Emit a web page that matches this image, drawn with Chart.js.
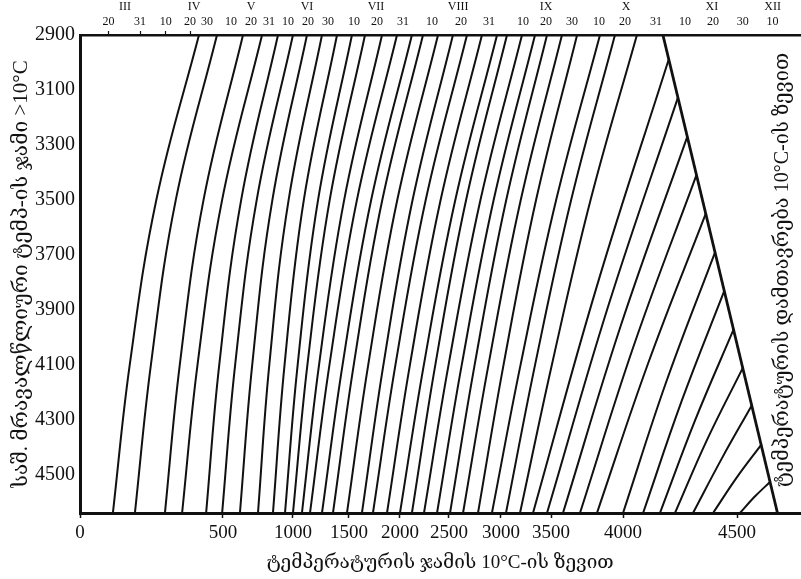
<!DOCTYPE html>
<html>
<head>
<meta charset="utf-8">
<script src="https://cdn.jsdelivr.net/npm/chart.js@4"></script>
<style>
  body { margin: 0; background: #fff; }
  #wrap { width: 801px; height: 579px; }
</style>
</head>
<body>
<div id="wrap"><canvas id="nomograma"></canvas></div>
<script>
// ტემპერატურის ჯამის ნომოგრამა (>10°C)

// ღერძების დანაყოფები
const levelTicks = [2900, 3100, 3300, 3500, 3700, 3900, 4100, 4300, 4500];
const sumTicks = [0, 500, 1000, 1500, 2000, 2500, 3000, 3500, 4000, 4500];

// თარიღები ზედა შკალაზე (2900-ის დონეზე)
const dayLabels = ['20', '31', '10', '20', '30', '10', '20', '31', '10', '20', '30', '10', '20', '31',
  '10', '20', '31', '10', '20', '30', '10', '20', '31', '10', '20', '30', '10'];
const daySums = [100, 210, 300, 385, 444, 557, 700, 829, 964, 1134, 1313, 1549, 1775, 2031,
  2327, 2615, 2885, 3220, 3450, 3646, 3833, 4009, 4145, 4272, 4395, 4526, 4658];
const monthLabels = ['III', 'IV', 'V', 'VI', 'VII', 'VIII', 'IX', 'X', 'XI', 'XII'];
const monthSums = [157, 399, 700, 1125, 1765, 2587, 3450, 4013, 4390, 4658];

// იზოხაზები, რომლებიც ზედა კიდემდე აღწევს: ჯამი დონეებზე 4640, 4100, 3500, 2900
const fullLevels = [4640, 4100, 3500, 2900];
const fullBottom = [115, 192, 297, 357, 441, 497, 621, 750, 857, 943, 1000, 1080, 1152, 1259, 1357,
  1482, 1627, 1735, 1873, 2000, 2122, 2245, 2378, 2510, 2635, 2779, 2913, 3050, 3190];
const full4100 = [174, 248, 349, 411, 487, 587, 709, 831, 940, 1042, 1129, 1233, 1326, 1443, 1547,
  1689, 1838, 1956, 2102, 2244, 2361, 2496, 2623, 2747, 2880, 3026, 3196, 3341, 3506];
const full3500 = [267, 335, 432, 497, 630, 741, 853, 969, 1097, 1224, 1328, 1457, 1578, 1718, 1827,
  1974, 2129, 2263, 2415, 2561, 2665, 2803, 2930, 3053, 3198, 3351, 3536, 3640, 3775];
const fullTop = [416, 479, 643, 779, 893, 1000, 1125, 1259, 1393, 1529, 1657, 1824, 1971, 2122, 2235,
  2388, 2538, 2673, 2817, 2962, 3060, 3210, 3340, 3460, 3576, 3681, 3840, 3944, 4061];

// იზოხაზები, რომლებიც დახრილ საზღვარზე მთავრდება
const shortBottom = [3320, 3460, 3583, 3701, 3819, 4000, 4088, 4162, 4228, 4307, 4395, 4513];
const shortMidLevel = [3815, 3884, 3954, 4024, 4093, 4164, 4233, 4303, 4373, 4442, 4513, 4582];
const shortMidSum = [3818, 3899, 3987, 4050, 4111, 4189, 4257, 4316, 4369, 4433, 4497, 4577];
const shortEndLevel = [2990, 3130, 3270, 3410, 3550, 3690, 3830, 3970, 4110, 4245, 4390, 4525];
const shortEndSum = [4200, 4240, 4282, 4322, 4363, 4404, 4445, 4486, 4527, 4568, 4609, 4649];

// ვეგეტაციის დამთავრების საზღვარი
const edgeSum = [4175, 4680];
const edgeLevel = [2900, 4640];

const SERIF = "'Liberation Serif', 'DejaVu Serif', 'DejaVu Sans', serif";
const ink = '#111';

// ნომოგრამის ჰორიზონტალური შკალა არათანაბარია - ვხატავთ მონაკვეთებად
class WarpScale extends Chart.LinearScale {
  _frac(v) {
    const a = this.options.warp;
    let i = 1;
    while (i < a.length - 1 && v > a[i][0]) i++;
    const [v0, f0] = a[i - 1], [v1, f1] = a[i];
    return f0 + (v - v0) / (v1 - v0) * (f1 - f0);
  }
  getPixelForValue(value) {
    if (value === null || isNaN(value)) return NaN;
    return this.getPixelForDecimal(this._frac(value));
  }
  getValueForPixel(pixel) {
    const d = this.getDecimalForPixel(pixel);
    const a = this.options.warp;
    let i = 1;
    while (i < a.length - 1 && d > a[i][1]) i++;
    const [v0, f0] = a[i - 1], [v1, f1] = a[i];
    return v0 + (d - f0) / (f1 - f0) * (v1 - v0);
  }
}
WarpScale.id = 'warp';
WarpScale.defaults = Chart.LinearScale.defaults;
Chart.register(WarpScale);

const warpStops = [[0, 0], [500, 0.1986], [1000, 0.2958], [1500, 0.3736], [2000, 0.4444],
  [2500, 0.5125], [3000, 0.5847], [3500, 0.6542], [4000, 0.7542], [4500, 0.9125], [4780, 1]];

const datasets = [];
fullBottom.forEach((b, i) => {
  datasets.push({
    data: [
      { x: b, y: fullLevels[0] },
      { x: full4100[i], y: fullLevels[1] },
      { x: full3500[i], y: fullLevels[2] },
      { x: fullTop[i], y: fullLevels[3] }
    ]
  });
});
shortBottom.forEach((b, i) => {
  datasets.push({
    data: [
      { x: b, y: fullLevels[0] },
      { x: shortMidSum[i], y: shortMidLevel[i] },
      { x: shortEndSum[i], y: shortEndLevel[i] }
    ]
  });
});
datasets.push({
  data: edgeSum.map((s, i) => ({ x: s, y: edgeLevel[i] })),
  borderWidth: 2.8,
  tension: 0
});

// მარჯვენა ვერტიკალური წარწერა
const sideTitle = {
  id: 'sideTitle',
  afterDraw(chart, args, opts) {
    const { ctx, chartArea } = chart;
    ctx.save();
    ctx.translate(chartArea.right - 17, (chartArea.top + chartArea.bottom) / 2 - 4);
    ctx.rotate(-Math.PI / 2);
    ctx.font = opts.font;
    ctx.fillStyle = opts.color;
    ctx.textAlign = 'center';
    ctx.textBaseline = 'middle';
    ctx.fillText(opts.text, 0, 0);
    ctx.restore();
  }
};

Chart.defaults.font.family = SERIF;
Chart.defaults.color = ink;

new Chart(document.getElementById('nomograma'), {
  type: 'line',
  data: { datasets: datasets },
  plugins: [sideTitle],
  options: {
    responsive: true,
    maintainAspectRatio: false,
    animation: false,
    layout: { padding: { left: 0, right: 1, top: 0, bottom: 0 } },
    elements: {
      line: { borderColor: ink, borderWidth: 2, tension: 0.4, fill: false },
      point: { radius: 0, hoverRadius: 0 }
    },
    scales: {
      x: {
        type: 'warp',
        position: 'bottom',
        min: 0,
        max: 4780,
        warp: warpStops,
        afterBuildTicks: s => { s.ticks = sumTicks.map(v => ({ value: v })); },
        afterFit: s => { s.height = 66; },
        ticks: {
          autoSkip: false,
          maxRotation: 0,
          padding: 4,
          color: ink,
          font: { size: 19 },
          callback: v => String(v)
        },
        grid: { drawOnChartArea: false, tickLength: 5, tickWidth: 1.5, tickColor: ink },
        border: { display: true, color: ink, width: 3 },
        title: {
          display: true,
          text: 'ტემპერატურის ჯამის 10°C-ის ზევით',
          color: ink,
          font: { size: 19 },
          padding: { top: 0, bottom: 5 }
        }
      },
      xDays: {
        type: 'warp',
        position: 'top',
        weight: 0,
        min: 0,
        max: 4780,
        warp: warpStops,
        afterBuildTicks: s => { s.ticks = daySums.map(v => ({ value: v })); },
        afterFit: s => { s.height = 21; },
        ticks: {
          autoSkip: false,
          maxRotation: 0,
          padding: 2,
          color: ink,
          font: { size: 12 },
          callback: (v, i) => dayLabels[i]
        },
        grid: {
          drawOnChartArea: false,
          tickLength: 4,
          tickWidth: 1.2,
          tickColor: c => (c.tick && c.tick.value < fullTop[0]) ? ink : 'rgba(0,0,0,0)'
        },
        border: { display: true, color: ink, width: 2.6 }
      },
      xMonths: {
        type: 'warp',
        position: 'top',
        weight: 1,
        min: 0,
        max: 4780,
        warp: warpStops,
        afterBuildTicks: s => { s.ticks = monthSums.map(v => ({ value: v })); },
        afterFit: s => { s.height = 14; },
        ticks: {
          autoSkip: false,
          maxRotation: 0,
          padding: 0,
          color: ink,
          font: { size: 12 },
          callback: (v, i) => monthLabels[i]
        },
        grid: { display: false, drawTicks: false },
        border: { display: false }
      },
      y: {
        type: 'linear',
        reverse: true,
        min: 2900,
        max: 4640,
        afterBuildTicks: s => { s.ticks = levelTicks.map(v => ({ value: v })); },
        afterFit: s => { s.width = 80; },
        ticks: {
          padding: 5,
          color: ink,
          font: { size: 20 },
          callback: v => String(v)
        },
        grid: { drawOnChartArea: false, drawTicks: false },
        border: { display: true, color: ink, width: 3 },
        title: {
          display: true,
          text: 'საშ. მრავალწლიური ტემპ-ის ჯამი >10°C',
          color: ink,
          font: { size: 21 },
          padding: { top: 9, bottom: 0 }
        }
      }
    },
    plugins: {
      legend: { display: false },
      tooltip: { enabled: false },
      sideTitle: {
        text: 'ტემპერატურის დამთავრება 10°C-ის ზევით',
        font: '20px ' + SERIF,
        color: ink
      }
    }
  }
});
</script>
</body>
</html>
